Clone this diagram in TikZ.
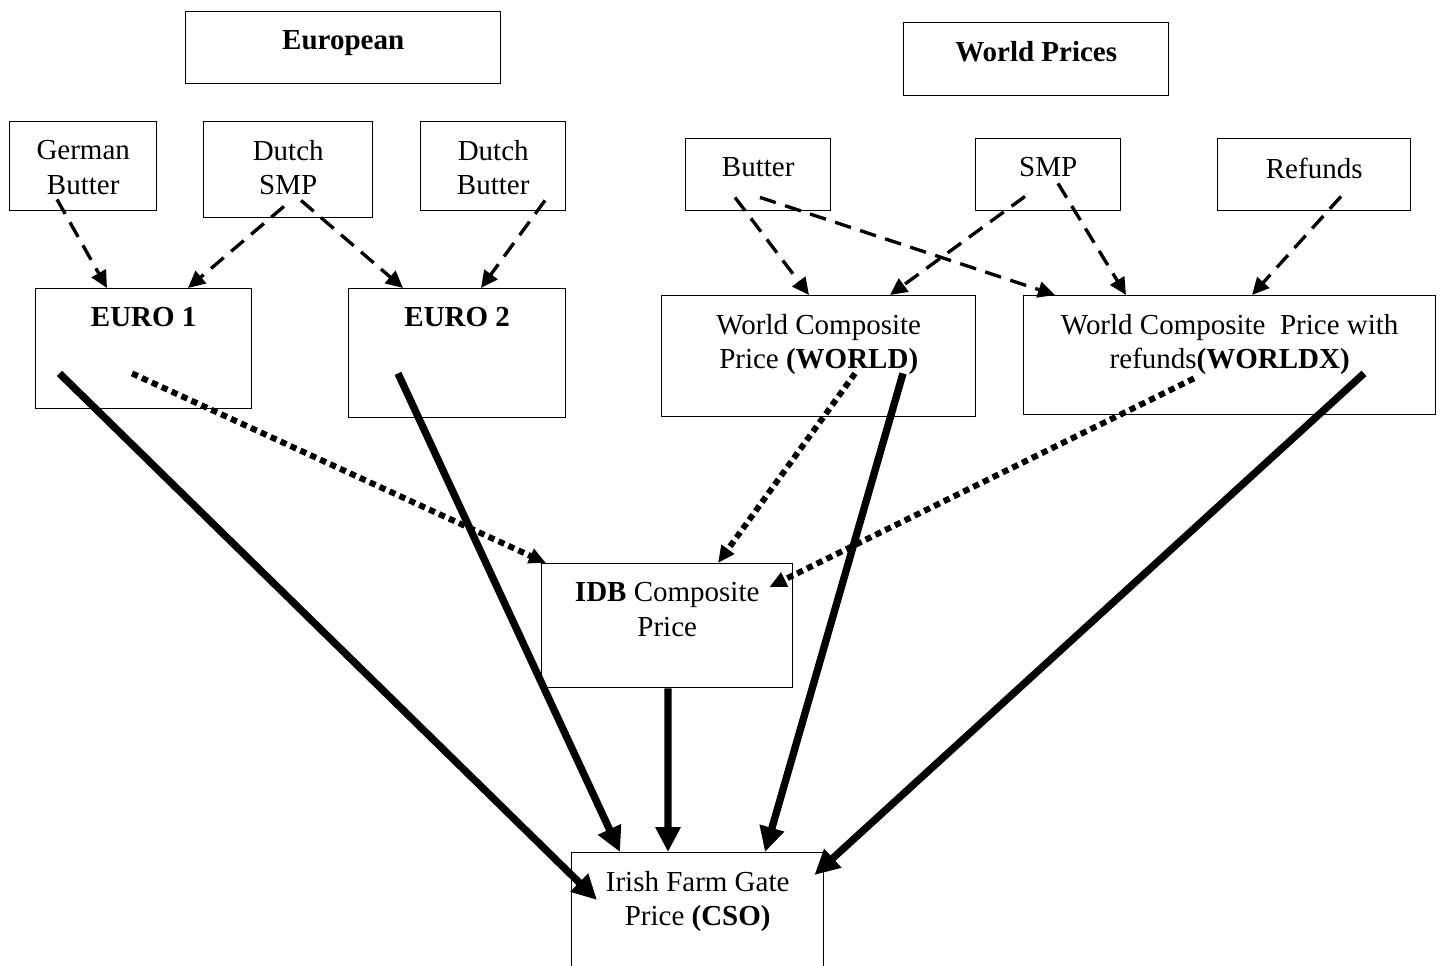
\documentclass[tikz,border=0pt]{standalone}
\usepackage{fontspec}
\setmainfont{Liberation Serif}
\usetikzlibrary{arrows.meta}

\newcommand{\boxtxt}[3]{\parbox[c][#2][t]{#1}{\centering\vspace*{0.38cm}#3}}

\begin{document}
\begin{tikzpicture}[every node/.style={font=\fontsize{16.5}{19.4}\selectfont},
    box/.style={draw, line width=0.8pt, inner sep=0pt, anchor=north west},
    dasharrow/.style={line width=1.9pt, dash pattern=on 9.5pt off 5.5pt, -{Triangle[length=0.34cm, width=0.32cm]}},
    dotarrow/.style={line width=3.4pt, dash pattern=on 3.6pt off 2.6pt, -{Triangle[length=0.34cm, width=0.3cm]}},
    fullarrow/.style={line width=4.2pt, -{Triangle[length=0.5cm, width=0.48cm]}}]
    \useasboundingbox (0,0) rectangle (28.8,-19.3);
    \clip (0,0) rectangle (28.8,-19.3);

    % headings
    \node[box] (european) at (3.7,-0.22) {\boxtxt{6.3cm}{1.44cm}{\textbf{European}}};
    \node[box] (worldprices) at (18.06,-0.44) {\boxtxt{5.3cm}{1.46cm}{\textbf{World Prices}}};

    % european prices
    \node[box] (gbutter) at (0.18,-2.42) {\boxtxt{2.94cm}{1.78cm}{German\\Butter}};
    \node[box] (dsmp) at (4.06,-2.42) {\boxtxt{3.38cm}{1.92cm}{Dutch\\SMP}};
    \node[box] (dbutter) at (8.4,-2.42) {\boxtxt{2.9cm}{1.78cm}{Dutch\\Butter}};
    \node[box] (euro1) at (0.7,-5.76) {\boxtxt{4.32cm}{2.4cm}{\textbf{EURO 1}}};
    \node[box] (euro2) at (6.96,-5.76) {\boxtxt{4.34cm}{2.58cm}{\textbf{EURO 2}}};

    % world prices
    \node[box] (wbutter) at (13.7,-2.76) {\boxtxt{2.9cm}{1.44cm}{Butter}};
    \node[box] (wsmp) at (19.5,-2.76) {\boxtxt{2.9cm}{1.44cm}{SMP}};
    \node[box] (refunds) at (24.34,-2.76) {\boxtxt{3.86cm}{1.44cm}{Refunds}};
    \node[box] (world) at (13.22,-5.9) {\boxtxt{6.28cm}{2.42cm}{World Composite\\Price \textbf{(WORLD)}}};
    \node[box] (worldx) at (20.46,-5.9) {\boxtxt{8.24cm}{2.38cm}{World Composite~ Price with\\refunds\textbf{(WORLDX)}}};

    % composite and farm gate
    \node[box] (idb) at (10.82,-11.26) {\boxtxt{5.02cm}{2.48cm}{\textbf{IDB} Composite\\Price}};
    \node[box] (cso) at (11.42,-17.04) {\boxtxt{5.04cm}{3cm}{Irish Farm Gate\\Price \textbf{(CSO)}}};

    \draw[dasharrow] ([shift={(0.96,0.24)}]gbutter.south west) -- ([xshift=1.44cm]euro1.north west);
    \draw[dasharrow] ([shift={(1.62,0.24)}]dsmp.south west) -- ([xshift=3.06cm]euro1.north west);
    \draw[dasharrow] ([shift={(1.96,0.36)}]dsmp.south west) -- ([xshift=1.1cm]euro2.north west);
    \draw[dasharrow] ([shift={(2.5,0.22)}]dbutter.south west) -- ([xshift=2.66cm]euro2.north west);
    \draw[dasharrow] ([shift={(1.0,0.28)}]wbutter.south west) -- ([xshift=2.96cm]world.north west);
    \draw[dasharrow] ([shift={(1.5,0.28)}]wbutter.south west) -- ([xshift=0.64cm]worldx.north west);
    \draw[dasharrow] ([shift={(1.0,0.3)}]wsmp.south west) -- ([xshift=4.58cm]world.north west);
    \draw[dasharrow] ([shift={(1.66,0.56)}]wsmp.south west) -- ([xshift=2.06cm]worldx.north west);
    \draw[dasharrow] ([shift={(2.48,0.3)}]refunds.south west) -- ([xshift=4.58cm]worldx.north west);

    \draw[dotarrow] ([shift={(1.94,0.72)}]euro1.south west) -- ([xshift=0.1cm]idb.north west);
    \draw[dotarrow] ([shift={(3.88,0.88)}]world.south west) -- ([xshift=3.54cm]idb.north west);
    \draw[dotarrow] ([shift={(3.42,0.74)}]worldx.south west) -- ([shift={(-0.48,-0.48)}]idb.north east);

    \draw[fullarrow] ([shift={(0.49,0.72)}]euro1.south west) -- ([shift={(0.52,-0.96)}]cso.north west);
    \draw[fullarrow] ([shift={(1.0,0.9)}]euro2.south west) -- ([xshift=0.98cm]cso.north west);
    \draw[fullarrow] ([xshift=2.54cm]idb.south west) -- ([xshift=1.94cm]cso.north west);
    \draw[fullarrow] ([shift={(4.84,0.88)}]world.south west) -- ([xshift=3.88cm]cso.north west);
    \draw[fullarrow] ([shift={(6.82,0.84)}]worldx.south west) -- ([shift={(-0.2,-0.46)}]cso.north east);
\end{tikzpicture}
\end{document}
